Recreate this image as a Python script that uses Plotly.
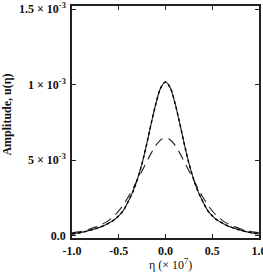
import plotly.graph_objects as go

eta = [-1.0, -0.95, -0.9, -0.85, -0.8, -0.75, -0.7, -0.65, -0.6, -0.55, -0.5, -0.45, -0.4, -0.35, -0.3, -0.25, -0.2, -0.15, -0.1, -0.05,
       0.0, 0.05, 0.1, 0.15, 0.2, 0.25, 0.3, 0.35, 0.4, 0.45, 0.5, 0.55, 0.6, 0.65, 0.7, 0.75, 0.8, 0.85, 0.9, 0.95, 1.0]

solid_half = [1.017, 0.98, 0.88, 0.75, 0.61, 0.48, 0.375, 0.29, 0.225, 0.168, 0.132, 0.105, 0.086, 0.07, 0.057, 0.046, 0.037, 0.029, 0.022, 0.016, 0.011]
dashed_half = [0.648, 0.635, 0.6, 0.55, 0.49, 0.43, 0.37, 0.31, 0.255, 0.205, 0.165, 0.13, 0.105, 0.085, 0.07, 0.057, 0.046, 0.037, 0.03, 0.024, 0.019]

solid = [v * 1e-3 for v in (solid_half[:0:-1] + solid_half)]
dashed = [v * 1e-3 for v in (dashed_half[:0:-1] + dashed_half)]

xtickvals = [-1.0, -0.5, 0.0, 0.5, 1.0]
xticktext = ["-1.0", "-0.5", "0.0", "0.5", "1.0"]
ytickvals = [0.0, 5e-4, 1e-3, 1.5e-3]
yticktext = ["0.0", "5 × 10<sup>-3</sup>", "1 × 10<sup>-3</sup>", "1.5 × 10<sup>-3</sup>"]

font = "Liberation Serif, Times New Roman, serif"

fig = go.Figure()
fig.add_trace(go.Scatter(x=eta, y=dashed, mode="lines", line=dict(color="#222", width=1.1, dash="10px,6px"), line_shape="spline"))
fig.add_trace(go.Scatter(x=eta, y=solid, mode="lines", line=dict(color="#222", width=1.1), line_shape="spline"))
fig.add_trace(go.Scatter(x=eta, y=solid, mode="lines", line=dict(color="#000", width=1.4, dash="dot"), line_shape="spline"))

axis_common = dict(showline=True, linecolor="#222", linewidth=1.5, mirror="ticks", ticks="inside",
                   ticklen=4, tickcolor="#222", tickwidth=1, showgrid=False, zeroline=False,
                   ticklabeloverflow="allow", automargin=False)
fig.update_xaxes(range=[-1.0, 1.0], tickvals=xtickvals, ticktext=xticktext, ticklabelstandoff=1,
                 tickfont=dict(family=font, size=12, color="#111", weight="bold"), **axis_common)
fig.update_yaxes(range=[-0.015e-3, 1.52e-3], tickvals=ytickvals, ticktext=yticktext, ticklabelstandoff=2,
                 tickfont=dict(family=font, size=12, color="#111", weight="bold"), **axis_common)

fig.update_layout(
    width=263, height=278, margin=dict(l=72, r=4, t=6, b=40),
    paper_bgcolor="white", plot_bgcolor="white", showlegend=False,
    annotations=[
        dict(text="<b>Amplitude, u(η)</b>", xref="paper", yref="paper", x=-0.35, y=0.53,
             textangle=-90, showarrow=False, font=dict(family=font, size=12, color="#111"),
             xanchor="center", yanchor="middle"),
        dict(text="η (× 10<sup>7</sup>)", xref="paper", yref="paper", x=0.525, y=-0.115,
             showarrow=False, font=dict(family=font, size=12, color="#111"),
             xanchor="center", yanchor="middle"),
    ],
)
fig.write_html("out.html", config={"displayModeBar": False},
               post_script="document.body.style.margin='0px';document.body.style.overflow='hidden';")
